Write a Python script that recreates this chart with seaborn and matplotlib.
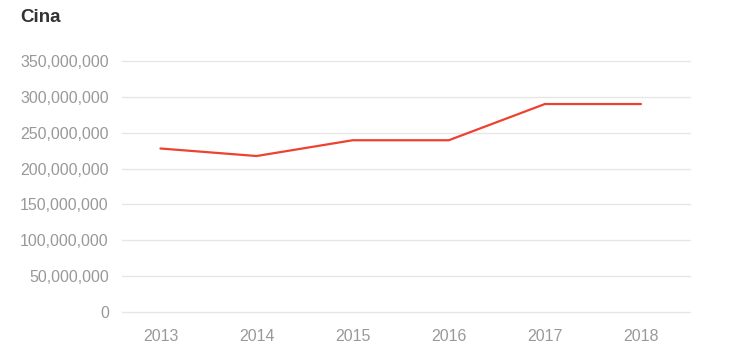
import matplotlib
matplotlib.use("Agg")
import matplotlib.pyplot as plt
import matplotlib.ticker as mticker
import seaborn as sns
import pandas as pd

years = [2013, 2014, 2015, 2016, 2017, 2018]
values = [228_000_000, 217_500_000, 239_500_000, 239_500_000, 290_000_000, 290_000_000]
title = "Cina"
yticks = [0, 50_000_000, 100_000_000, 150_000_000, 200_000_000, 250_000_000, 300_000_000, 350_000_000]

sns.set_theme(style="white")
plt.rcParams["font.family"] = ["Liberation Sans", "DejaVu Sans"]

df = pd.DataFrame({"year": years, "value": values})

fig = plt.figure(figsize=(7.48, 3.47), dpi=100)
W, H = 748, 347
ax = fig.add_axes([122 / W, 1 - 312 / H, (690 - 122) / W, (312 - 61) / H])

sns.lineplot(data=df, x="year", y="value", ax=ax, color="#ee4130", linewidth=1.6)

ax.set_ylim(0, 350_000_000)
ax.set_xlim(2013 - 0.40, 2018 + 0.51)
ax.set_yticks(yticks)
ax.set_xticks(years)
ax.set_xticklabels([str(y) for y in years])
ax.yaxis.set_major_formatter(mticker.FuncFormatter(lambda v, p: f"{int(v):,}"))
ax.grid(axis="y", color="#e6e6e6", linewidth=1.0)
ax.grid(axis="x", visible=False)
for gl in ax.yaxis.get_gridlines():
    gl.set_clip_on(False)
ax.set_axisbelow(True)
for s in ax.spines.values():
    s.set_visible(False)
ax.tick_params(axis="y", length=0, pad=9.5, labelsize=11.5, labelcolor="#999999")
ax.tick_params(axis="x", length=0, pad=12, labelsize=11.5, labelcolor="#999999")
ax.set_xlabel("")
ax.set_ylabel("")

fig.text(20 / W, 1 - 9 / H, title, ha="left", va="top", fontsize=13.5,
         fontweight="bold", color="#333333")

fig.savefig("out.png", dpi=100, facecolor="white")
